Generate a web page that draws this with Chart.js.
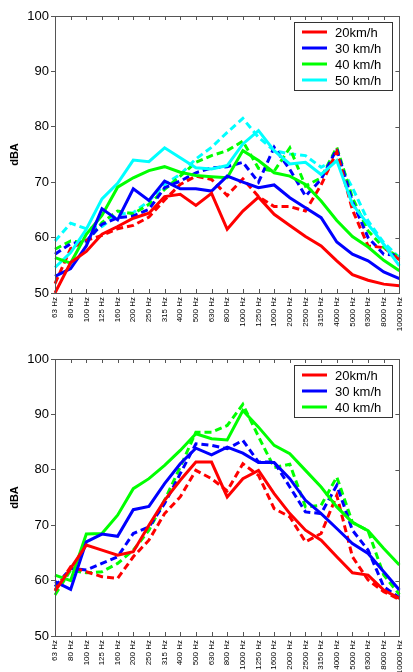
<!DOCTYPE html>
<html lang="en">
<head>
    <meta charset="UTF-8">
    <script src="https://cdn.jsdelivr.net/npm/chart.js"></script>
    <title>dBA por frequencia</title>
    <style>
        body { margin: 0; background: #fff; }
        canvas { position: absolute; left: 0; }
    </style>
</head>
<body>

<canvas id="graficoTopo" width="413" height="336" style="top:0"></canvas>
<canvas id="graficoBaixo" width="413" height="336" style="top:336px"></canvas>

<script>
    // bandas de terco de oitava
    const freqLabels = ['63 Hz', '80 Hz', '100 Hz', '125 Hz', '160 Hz', '200 Hz', '250 Hz', '315 Hz', '400 Hz', '500 Hz',
        '630 Hz', '800 Hz', '1000 Hz', '1250 Hz', '1600 Hz', '2000 Hz', '2500 Hz', '3150 Hz', '4000 Hz', '5000 Hz',
        '6300 Hz', '8000 Hz', '10000 Hz'];
    const yTicks = [50, 60, 70, 80, 90, 100];

    // grafico de cima (linha cheia + tracejada para cada velocidade)
    const topo20 = [50, 55.5, 57.5, 60.6, 62, 63.5, 64.4, 67.4, 67.8, 65.8, 68, 61.5, 64.8, 67.3, 64.2, 62.2, 60.2, 58.5, 55.8, 53.3, 52.3, 51.6, 51.3];
    const topo20d = [51.7, 58, 59.5, 60.4, 61.6, 62.2, 63.7, 66.8, 69.6, 71.1, 70.5, 67.6, 70.6, 67.4, 65.6, 65.6, 64.8, 69.5, 75.5, 65, 58.5, 58.2, 56];
    const topo30 = [53, 54.4, 58.5, 65.2, 63.2, 68.8, 66.7, 70.2, 68.8, 68.8, 68.4, 71.1, 70, 69, 69.5, 67.2, 65.4, 63.6, 59.2, 57, 55.8, 53.8, 52.6];
    const topo30d = [57, 58.9, 59.4, 62.4, 63.6, 63.9, 65.1, 69, 70.2, 71.7, 72.6, 72.8, 73.6, 70, 76.3, 72.3, 67.5, 70.5, 76, 66.5, 60, 57, 56.8];
    const topo40 = [56.4, 55.4, 60.6, 64, 69.1, 70.8, 72.1, 72.8, 71.8, 71.2, 71, 70.8, 75.7, 73.9, 71.7, 71.1, 69.6, 66.6, 63.1, 60.2, 58.3, 55.9, 54];
    const topo40d = [57.9, 59.4, 59.1, 62.7, 64.8, 64.3, 66, 68.7, 71.1, 73.6, 74.8, 75.7, 77.4, 72.5, 72, 76.2, 69.3, 70.8, 76.3, 67.2, 61.2, 58.2, 56.4];
    const topo50 = [54.6, 57.3, 61.5, 67, 69.8, 74, 73.7, 76.2, 74.4, 72.6, 72.4, 73, 76.9, 79.3, 75.7, 73.3, 73.6, 71.4, 73.9, 66, 62.4, 58.8, 54.9];
    const topo50d = [59.4, 62.6, 61.6, 62, 64.2, 64.5, 66.6, 69.6, 71.4, 74.2, 76.3, 79, 81.5, 78.1, 75.7, 75.1, 74.8, 72.7, 74.2, 69, 63, 59.1, 56.4];

    // grafico de baixo
    const baixo20 = [58.1, 62.2, 66.4, 65.5, 64.6, 65.2, 70, 74.5, 78.1, 81.4, 81.4, 75.1, 78.4, 79.9, 75.7, 72.1, 69.1, 67.3, 64.3, 61.4, 61, 58.3, 56.8];
    const baixo20d = [58.3, 62.5, 61.6, 60.7, 60.4, 64.3, 67.3, 72.1, 75.1, 79.9, 78.4, 76.2, 81.1, 79, 73, 71.5, 67, 68.5, 75.4, 64.3, 60.1, 58, 56.6];
    const baixo30 = [59.8, 58.4, 67, 68.4, 68, 72.8, 73.4, 77.5, 81.1, 83.9, 82.7, 84.1, 83, 81.3, 81.3, 78.4, 74.5, 72.1, 69.4, 66.7, 64.9, 61.6, 58.3];
    const baixo30d = [58.9, 62.2, 61.9, 63.1, 64.3, 68.5, 69.7, 73.9, 79.3, 84.7, 84.4, 83.8, 85.3, 81.4, 81.4, 76.9, 72.4, 72.1, 77.2, 69.1, 65.5, 58.9, 56.9];
    const baixo40 = [61, 60, 68.4, 68.5, 71.8, 76.6, 78.4, 80.8, 83.5, 86.5, 85.6, 85.4, 90.7, 87.7, 84.4, 82.9, 79.9, 76.9, 73.3, 70.5, 69, 65.8, 62.8];
    const baixo40d = [57.4, 61.9, 61.4, 61.6, 63.1, 65.5, 69.1, 74.5, 80.5, 86.8, 86.8, 88, 91.8, 86, 80.4, 81, 73.3, 73.6, 78.7, 70.5, 69, 61, 57.5];

    const fonte = 'Arial, "Liberation Sans", sans-serif';
    const cinza = '#555';

    function serie(label, dados, cor, tracejada) {
        return {
            label: label,
            data: dados,
            borderColor: cor,
            backgroundColor: cor,
            borderWidth: 3,
            borderDash: tracejada ? [7, 4] : [],
            pointRadius: 0,
            tension: 0,
            fill: false,
            legenda: !tracejada
        };
    }

    // caixa do grafico, marcas para dentro e legenda estilo matlab
    const moldura = {
        id: 'moldura',
        afterDraw(chart) {
            const ctx = chart.ctx;
            const a = chart.chartArea;
            const x = chart.scales.x;
            const y = chart.scales.y;
            ctx.save();
            ctx.strokeStyle = cinza;
            ctx.lineWidth = 1;
            ctx.strokeRect(Math.round(a.left) + 0.5, Math.round(a.top) + 0.5, Math.round(a.right - a.left), Math.round(a.bottom - a.top));
            ctx.beginPath();
            for (let i = 0; i < freqLabels.length; i++) {
                const px = Math.round(x.getPixelForTick(i)) + 0.5;
                ctx.moveTo(px, a.top);
                ctx.lineTo(px, a.top + 4);
                ctx.moveTo(px, a.bottom);
                ctx.lineTo(px, a.bottom - 4);
            }
            yTicks.forEach(v => {
                const py = Math.round(y.getPixelForValue(v)) + 0.5;
                ctx.moveTo(a.right, py);
                ctx.lineTo(a.right - 4, py);
            });
            ctx.stroke();

            // legenda
            const itens = chart.data.datasets.filter(d => d.legenda);
            const bw = 98, bh = itens.length * 16 + 4;
            const bx = Math.round(a.right) - 7 - bw, by = Math.round(a.top) + 6;
            ctx.fillStyle = '#fff';
            ctx.fillRect(bx, by, bw, bh);
            ctx.strokeStyle = '#333';
            ctx.strokeRect(bx + 0.5, by + 0.5, bw, bh);
            ctx.font = '13px ' + fonte;
            ctx.textBaseline = 'middle';
            ctx.textAlign = 'left';
            itens.forEach((d, k) => {
                const ly = by + 10 + k * 16;
                ctx.strokeStyle = d.borderColor;
                ctx.lineWidth = 3;
                ctx.beginPath();
                ctx.moveTo(bx + 8, ly);
                ctx.lineTo(bx + 33, ly);
                ctx.stroke();
                ctx.fillStyle = '#000';
                ctx.fillText(d.label, bx + 41, ly + 1);
            });
            ctx.restore();
        }
    };

    function grafico(id, datasets, padTopo, alturaX) {
        const ctx = document.getElementById(id).getContext('2d');
        return new Chart(ctx, {
            type: 'line',
            data: { labels: freqLabels, datasets: datasets },
            options: {
                responsive: false,
                animation: false,
                devicePixelRatio: 1,
                layout: { padding: { top: padTopo, right: 5, left: 0, bottom: 0 } },
                plugins: { legend: { display: false }, tooltip: { enabled: false } },
                scales: {
                    x: {
                        offset: false,
                        grid: { display: true, drawOnChartArea: false, drawTicks: false },
                        border: { color: cinza },
                        ticks: {
                            autoSkip: false, minRotation: 90, maxRotation: 90, padding: 4,
                            color: '#000', font: { family: fonte, size: 8 }
                        },
                        afterFit(s) { s.height = alturaX; }
                    },
                    y: {
                        min: 50, max: 100,
                        afterBuildTicks(s) { s.ticks = yTicks.map(v => ({ value: v })); },
                        grid: { drawOnChartArea: false, drawTicks: true, tickLength: 4, color: cinza },
                        border: { color: cinza },
                        ticks: { padding: 2, color: '#000', font: { family: fonte, size: 13 } },
                        title: { display: true, text: 'dBA', color: '#000', padding: { top: 8, bottom: 0 }, font: { family: fonte, size: 11, weight: 'bold' } },
                        afterFit(s) { s.width = 55; }
                    }
                }
            },
            plugins: [moldura]
        });
    }

    grafico('graficoTopo', [
        serie('20km/h', topo20, '#ff0000', false),
        serie('30 km/h', topo30, '#0000ff', false),
        serie('40 km/h', topo40, '#00ff00', false),
        serie('50 km/h', topo50, '#00ffff', false),
        serie('20km/h', topo20d, '#ff0000', true),
        serie('30 km/h', topo30d, '#0000ff', true),
        serie('40 km/h', topo40d, '#00ff00', true),
        serie('50 km/h', topo50d, '#00ffff', true)
    ], 16, 43);

    grafico('graficoBaixo', [
        serie('20km/h', baixo20, '#ff0000', false),
        serie('30 km/h', baixo30, '#0000ff', false),
        serie('40 km/h', baixo40, '#00ff00', false),
        serie('20km/h', baixo20d, '#ff0000', true),
        serie('30 km/h', baixo30d, '#0000ff', true),
        serie('40 km/h', baixo40d, '#00ff00', true)
    ], 23, 36);
</script>

</body>
</html>
